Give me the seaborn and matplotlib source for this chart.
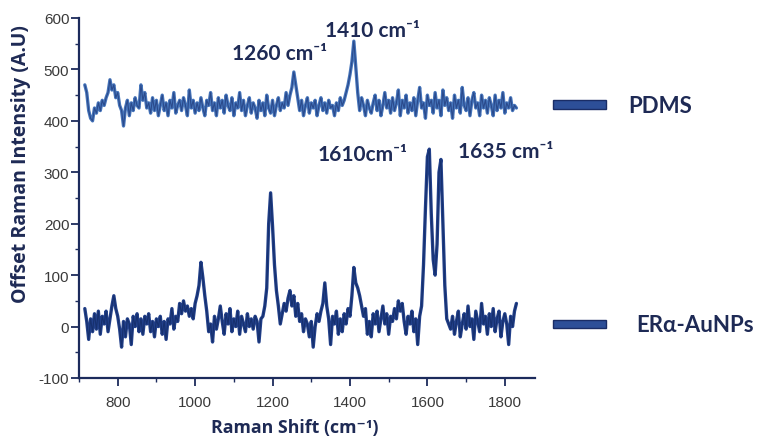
import numpy as np
import pandas as pd
import matplotlib
matplotlib.use("Agg")
import matplotlib.pyplot as plt
from matplotlib.patches import Rectangle
from matplotlib.ticker import MultipleLocator
import seaborn as sns

# Raman shift grid (cm^-1), one reading every 5 cm^-1
shift_start, shift_stop, shift_step = 715, 1830, 5
raman_shift = np.arange(shift_start, shift_stop + 1, shift_step)

# Offset intensities (A.U)
pdms = [
    470, 455, 420, 405, 400, 425, 415, 435, 420, 440,
    430, 445, 455, 480, 460, 470, 445, 455, 430, 420,
    390, 425, 440, 410, 435, 420, 445, 430, 425, 470,
    440, 455, 425, 435, 415, 445, 420, 440, 410, 430,
    450, 420, 435, 410, 440, 425, 455, 415, 430, 440,
    420, 445, 430, 410, 460, 425, 440, 415, 435, 420,
    445, 425, 410, 440, 430, 455, 420, 435, 410, 445,
    425, 440, 415, 450, 430, 420, 445, 410, 435, 425,
    455, 420, 440, 410, 430, 445, 415, 435, 425, 405,
    440, 420, 435, 410, 450, 425, 415, 440, 410, 430,
    445, 420, 435, 425, 455, 430, 450, 465, 495, 470,
    445, 420, 440, 410, 430, 445, 415, 435, 425, 440,
    410, 430, 445, 420, 435, 415, 440, 425, 430, 410,
    435, 420, 445, 430, 440, 455, 470, 490, 515, 555,
    505, 455, 420, 445, 430, 410, 440, 425, 415, 435,
    450, 420, 440, 410, 430, 455, 425, 440, 415, 445,
    420, 435, 460, 410, 440, 425, 450, 415, 435, 420,
    445, 410, 440, 465, 425, 435, 405, 450, 430, 440,
    415, 455, 425, 440, 410, 460, 430, 445, 420, 435,
    405, 450, 425, 440, 415, 465, 430, 420, 445, 410,
    440, 455, 425, 435, 410, 450, 425, 440, 415, 445,
    430, 410, 450, 420, 440, 425, 455, 415, 435, 425,
    445, 420, 430, 425,
]

era_aunps = [
    35, 10, -25, 15, -10, 25, -5, 30, -15, 20,
    5, 30, -10, 15, 40, 60, 35, 20, -5, -40,
    10, -20, 15, 5, -35, 20, 0, 25, -10, 15,
    -15, 20, 5, 25, -10, 10, -20, 15, 0, 20,
    -15, 10, -25, 15, 5, 35, -5, 20, 10, 45,
    25, 50, 30, 40, 20, 35, 15, 45, 60, 80,
    125, 95, 60, 30, -10, 5, -30, 20, -5, 15,
    40, 10, -15, 25, 5, 35, -10, 15, 0, 30,
    -15, 20, 5, -10, 25, 0, 15, -5, 20, 10,
    -30, 15, 20, 40, 75, 200, 260, 195, 120, 70,
    40, 5, 25, 45, 30, 55, 70, 40, 60, 20,
    45, 10, 25, -10, 15, 5, -20, 10, -40, 0,
    25, 10, 30, 45, 85, 40, 15, -35, 20, 5,
    30, -15, 15, -10, 25, 5, 35, 20, 60, 115,
    85, 75, 60, 40, 20, 35, -15, 10, -20, 25,
    5, 30, -10, 15, 40, 5, 25, -15, 20, 10,
    35, 15, 50, 30, 45, 10, -15, 20, 5, 30,
    -10, 15, -35, 20, 40, 120, 230, 330, 345, 220,
    130, 100, 160, 300, 325, 200, 80, 15, 5, -5,
    20, -15, 10, 30, -20, 5, 25, -5, 40, 0,
    15, -25, 30, 10, -10, 45, 5, 20, -15, 25,
    0, 35, -10, 15, 30, -20, 10, 25, 5, -35,
    20, 0, 30, 45,
]

series_names = ["PDMS", "ERα-AuNPs"]
series_colors = ["#4574ba", "#22408a"]

# Peak labels
peak_labels = ["1260 cm⁻¹", "1410 cm⁻¹", "1610cm⁻¹", "1635 cm⁻¹"]

df = pd.concat([
    pd.DataFrame({"shift": raman_shift, "intensity": pdms, "sample": series_names[0]}),
    pd.DataFrame({"shift": raman_shift, "intensity": era_aunps, "sample": series_names[1]}),
])

sns.set_theme(style="white")
plt.rcParams["font.family"] = ["Lato", "DejaVu Sans"]
plt.rcParams["axes.unicode_minus"] = False

W, H = 757, 439
fig = plt.figure(figsize=(W / 100, H / 100), dpi=100)
ax = fig.add_axes([79 / W, 1 - 379 / H, (535 - 79) / W, (379 - 19) / H])

navy = "#1c2b5c"
text_navy = "#1e2a55"

# Broad body of each trace, then a thin darker stroke along the same data
sns.lineplot(data=df, x="shift", y="intensity", hue="sample",
             palette=dict(zip(series_names, series_colors)),
             linewidth=2.4, legend=False, ax=ax, estimator=None)
sns.lineplot(data=df, x="shift", y="intensity", hue="sample",
             palette=dict(zip(series_names, ["#2a4a8c", "#16306e"])),
             linewidth=0.8, legend=False, ax=ax, estimator=None)

ax.set_xlim(700, 1878)
ax.set_ylim(-100, 600)
ax.xaxis.set_major_locator(MultipleLocator(200))
ax.xaxis.set_minor_locator(MultipleLocator(100))
ax.yaxis.set_major_locator(MultipleLocator(100))
ax.yaxis.set_minor_locator(MultipleLocator(50))

for side in ["top", "right"]:
    ax.spines[side].set_visible(False)
for side in ["left", "bottom"]:
    ax.spines[side].set_color(navy)
    ax.spines[side].set_linewidth(1.6)

ax.tick_params(axis="both", which="major", direction="out", length=6, width=1.3,
               color=navy, labelsize=11, labelcolor="#3a3a3a", pad=1)
ax.tick_params(axis="x", which="major", pad=6)
ax.tick_params(axis="both", which="minor", direction="out", length=3, width=1.0,
               color=navy)
ax.tick_params(bottom=True, left=True, which="both")
for lab in ax.get_xticklabels() + ax.get_yticklabels():
    lab.set_family(["Liberation Sans", "DejaVu Sans"])

label_font = ["Open Sans", "DejaVu Sans"]
ax.set_xlabel("Raman Shift (cm⁻¹)", fontsize=12.8, fontweight="bold",
              color=text_navy, family=label_font)
ax.set_ylabel("Offset Raman Intensity (A.U)", fontsize=14, fontweight="bold",
              color=text_navy, family=label_font)
ax.xaxis.set_label_coords((295 - 79) / (535 - 79), -(419 - 379) / 360)
ax.yaxis.set_label_coords(-(79 - 31) / (535 - 79), (379 - 164) / 360)

# Peak annotations (figure pixels: left edge, vertical centre)
label_px = [(232, 54), (325, 31), (318, 155), (458, 152)]
for txt, (px, py) in zip(peak_labels, label_px):
    fig.text(px / W, 1 - py / H, txt, ha="left", va="center", fontsize=15,
             fontweight="bold", color=text_navy, family=["Lato", "DejaVu Sans"])

# Side legend: a bar swatch and a name beside each trace
legend_rows = [(101, 110, 628), (321, 329, 636)]
for name, (y0, y1, tx) in zip(series_names, legend_rows):
    fig.patches.append(Rectangle((553 / W, 1 - y1 / H), 53 / W, (y1 - y0) / H,
                                 transform=fig.transFigure, facecolor="#2d4f98",
                                 edgecolor="#1a2d66", linewidth=1.0))
    fig.text(tx / W, 1 - ((y0 + y1) / 2 + 1) / H, name, ha="left", va="center",
             fontsize=16, fontweight="bold", color=text_navy,
             family=["Lato", "DejaVu Sans"])

fig.savefig("out.png", dpi=100, facecolor="white")
